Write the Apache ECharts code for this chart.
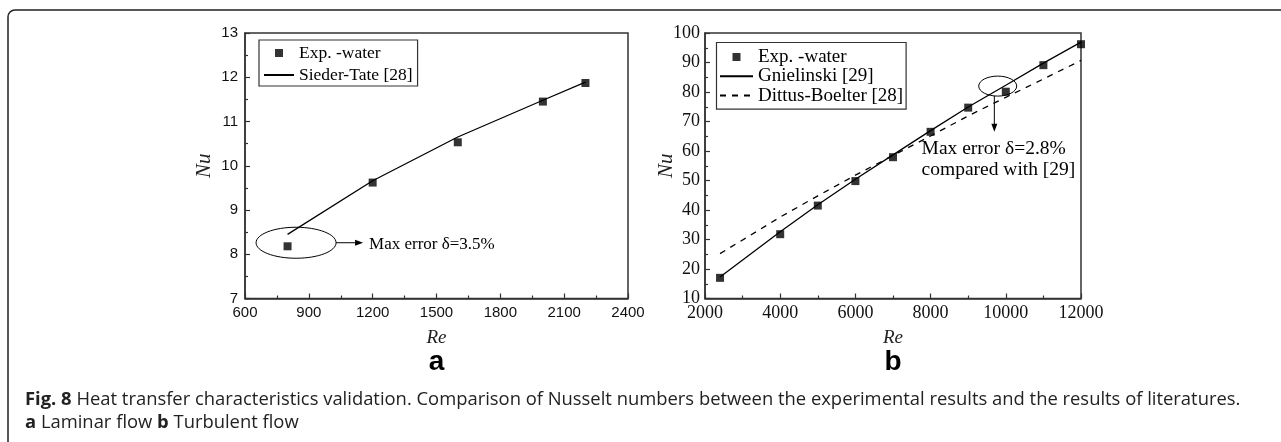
<!DOCTYPE html>
<html>
<head>
<meta charset="utf-8">
<script src="https://cdn.jsdelivr.net/npm/echarts@6/dist/echarts.min.js"></script>
<style>
  html, body { margin: 0; padding: 0; background: #fff; }
  #chart { width: 1281px; height: 442px; }
</style>
</head>
<body>
<div id="chart"></div>
<script>
// ---- Data ----
const laminarRe = [800, 1200, 1600, 2000, 2200];
const laminarExp = [8.18, 9.62, 10.53, 11.45, 11.87];
const laminarSiederTate = [8.45, 9.66, 10.65, 11.48, 11.89];

const turbulentRe = [2400, 4000, 5000, 6000, 7000, 8000, 9000, 10000, 11000, 12000];
const turbulentExp = [17.0, 31.8, 41.5, 49.8, 57.9, 66.5, 74.7, 80.1, 89.1, 96.2];
const turbulentGnielinski = [17.3, 32.6, 41.8, 50.4, 58.7, 66.9, 74.9, 82.3, 89.8, 96.9];
const turbulentDittus = [25.2, 37.6, 44.8, 51.8, 58.5, 65.1, 71.9, 78.2, 84.4, 90.7];

const seriesNames = {
  exp: 'Exp. -water',
  sieder: 'Sieder-Tate [28]',
  gniel: 'Gnielinski [29]',
  dittus: 'Dittus-Boelter [28]'
};

const leftAxes = { xMin: 600, xMax: 2400, xStep: 300, yMin: 7, yMax: 13, yStep: 1 };
const rightAxes = { xMin: 2000, xMax: 12000, xStep: 2000, yMin: 10, yMax: 100, yStep: 10 };

const captionBold = 'Fig. 8';
const captionLine1 = ' Heat transfer characteristics validation. Comparison of Nusselt numbers between the experimental results and the results of literatures.';
const captionLine2a = 'a';
const captionLine2b = ' Laminar flow ';
const captionLine2c = 'b';
const captionLine2d = ' Turbulent flow';

const note1 = 'Max error δ=3.5%';
const note2a = 'Max error δ=2.8%';
const note2b = 'compared with [29]';

// ---- Helpers ----
const zip = (xs, ys) => xs.map((x, i) => [x, ys[i]]);
const INK = '#000';
const AX = '#333';
const SERIF = 'Liberation Serif';
const SANS = 'Liberation Sans';
const squareIcon = 'path://M0,0L10,0L10,10L0,10Z';

function axisCommon(labelFont, labelSize, margin) {
  return {
    nameMoveOverlap: false,
    axisLine: { show: true, onZero: false, lineStyle: { color: AX, width: 1.5 } },
    axisTick: { show: true, inside: true, length: 5, lineStyle: { color: AX, width: 1.2 } },
    minorTick: { show: true, splitNumber: 2, length: 3, lineStyle: { color: AX, width: 1.2 } },
    splitLine: { show: false },
    minorSplitLine: { show: false },
    axisLabel: { fontFamily: labelFont, fontSize: labelSize, color: '#111', margin: margin, formatter: v => String(v) }
  };
}

const chart = echarts.init(document.getElementById('chart'), null, { renderer: 'canvas' });

const hideSymbol = { opacity: 0, color: 'transparent', borderWidth: 0 };

const option = {
  animation: false,
  backgroundColor: '#fff',
  grid: [
    { left: 245, top: 33, width: 383, height: 265.5, show: true, borderColor: AX, borderWidth: 1.5, backgroundColor: 'transparent' },
    { left: 705, top: 33, width: 376, height: 265.5, show: true, borderColor: AX, borderWidth: 1.5, backgroundColor: 'transparent' }
  ],
  xAxis: [
    Object.assign(axisCommon(SANS, 15, 7), {
      type: 'value', gridIndex: 0, min: leftAxes.xMin, max: leftAxes.xMax, interval: leftAxes.xStep,
      name: 'Re', nameLocation: 'middle', nameGap: 30,
      nameTextStyle: { fontFamily: SERIF, fontStyle: 'italic', fontSize: 19, color: '#222' }
    }),
    Object.assign(axisCommon(SERIF, 18, 6), {
      type: 'value', gridIndex: 1, min: rightAxes.xMin, max: rightAxes.xMax, interval: rightAxes.xStep,
      name: 'Re', nameLocation: 'middle', nameGap: 30,
      nameTextStyle: { fontFamily: SERIF, fontStyle: 'italic', fontSize: 19, color: '#222' }
    })
  ],
  yAxis: [
    Object.assign(axisCommon(SANS, 15, 7), {
      type: 'value', gridIndex: 0, min: leftAxes.yMin, max: leftAxes.yMax, interval: leftAxes.yStep,
      name: 'Nu', nameLocation: 'middle', nameGap: 30,
      nameTextStyle: { fontFamily: SERIF, fontStyle: 'italic', fontSize: 21, color: '#222' }
    }),
    Object.assign(axisCommon(SERIF, 18, 5), {
      type: 'value', gridIndex: 1, min: rightAxes.yMin, max: rightAxes.yMax, interval: rightAxes.yStep,
      name: 'Nu', nameLocation: 'middle', nameGap: 28,
      nameTextStyle: { fontFamily: SERIF, fontStyle: 'italic', fontSize: 21, color: '#222' }
    })
  ],
  legend: [
    {
      orient: 'vertical', left: 259, top: 40, selectedMode: false,
      backgroundColor: '#fff', borderColor: AX, borderWidth: 1.2, borderRadius: 0,
      padding: [3, 5, 1, 4], itemGap: 2, itemWidth: 30, itemHeight: 8,
      textStyle: { fontFamily: SERIF, fontSize: 17.5, color: INK, lineHeight: 20 },
      data: [
        { name: seriesNames.exp, icon: squareIcon },
        { name: seriesNames.sieder, itemStyle: hideSymbol }
      ]
    },
    {
      orient: 'vertical', left: 716.5, top: 42.5, selectedMode: false,
      backgroundColor: '#fff', borderColor: AX, borderWidth: 1.2, borderRadius: 0,
      padding: [5, 3, 4, 2.5], itemGap: 0.3, itemWidth: 33, itemHeight: 8,
      textStyle: { fontFamily: SERIF, fontSize: 19, color: INK, lineHeight: 18 },
      data: [
        { name: seriesNames.exp, icon: squareIcon },
        { name: seriesNames.gniel, itemStyle: hideSymbol },
        { name: seriesNames.dittus, itemStyle: hideSymbol }
      ]
    }
  ],
  series: [
    {
      name: seriesNames.sieder, type: 'line', xAxisIndex: 0, yAxisIndex: 0,
      data: zip(laminarRe, laminarSiederTate), symbol: 'none',
      lineStyle: { color: INK, width: 1.3 }, itemStyle: { color: INK }, z: 2
    },
    {
      name: seriesNames.exp, type: 'scatter', xAxisIndex: 0, yAxisIndex: 0,
      data: zip(laminarRe, laminarExp), symbol: 'rect', symbolSize: 8,
      itemStyle: { color: INK }, z: 3
    },
    {
      name: seriesNames.gniel, type: 'line', xAxisIndex: 1, yAxisIndex: 1,
      data: zip(turbulentRe, turbulentGnielinski), symbol: 'none',
      lineStyle: { color: INK, width: 1.3 }, itemStyle: { color: INK }, z: 2
    },
    {
      name: seriesNames.dittus, type: 'line', xAxisIndex: 1, yAxisIndex: 1,
      data: zip(turbulentRe, turbulentDittus), symbol: 'none',
      lineStyle: { color: INK, width: 1.3, type: [6, 6] }, itemStyle: { color: INK }, z: 2
    },
    {
      name: seriesNames.exp, type: 'scatter', xAxisIndex: 1, yAxisIndex: 1,
      data: zip(turbulentRe, turbulentExp), symbol: 'rect', symbolSize: 8,
      itemStyle: { color: INK }, z: 3
    }
  ]
};

chart.setOption(option);

// ---- Annotations positioned via the chart's own coordinate conversion ----
const L = (re, nu) => chart.convertToPixel({ gridIndex: 0 }, [re, nu]);
const R = (re, nu) => chart.convertToPixel({ gridIndex: 1 }, [re, nu]);

const e1 = L(840, 8.26);
const a1s = L(1028, 8.26), a1e = L(1155, 8.26);
const t1 = L(1183, 8.22);

const e2 = R(9785, 82.0);
const a2s = R(9695, 78.7), a2e = R(9695, 66.5);
const t2a = R(7760, 60.8), t2b = R(7760, 53.5);

const gridL = chart.getModel().getComponent('grid', 0).coordinateSystem.getRect();
const gridR = chart.getModel().getComponent('grid', 1).coordinateSystem.getRect();

const captionRich = {
  b: { fontFamily: 'Open Sans', fontWeight: 'bold', fontSize: 18.4, fill: '#222' },
  n: { fontFamily: 'Open Sans', fontSize: 18.4, fill: '#222' }
};

const graphics = [
  // outer figure frame (top + left edges, rounded top-left corner)
  { type: 'rect', shape: { x: 8, y: 10, width: 1300, height: 460, r: [7, 0, 0, 0] },
    style: { fill: 'none', stroke: '#222', lineWidth: 1.5 }, silent: true, z: 0 },
  // left annotation
  { type: 'ellipse', shape: { cx: e1[0], cy: e1[1], rx: 40, ry: 15.5 },
    style: { fill: 'none', stroke: INK, lineWidth: 1 }, z: 10 },
  { type: 'line', shape: { x1: a1s[0], y1: a1s[1], x2: a1e[0] - 6, y2: a1e[1] },
    style: { stroke: INK, lineWidth: 1 }, z: 10 },
  { type: 'polygon', shape: { points: [[a1e[0], a1e[1]], [a1e[0] - 8, a1e[1] - 3], [a1e[0] - 8, a1e[1] + 3]] },
    style: { fill: INK }, z: 10 },
  { type: 'text', x: t1[0], y: t1[1],
    style: { text: note1, fontFamily: SERIF, fontSize: 17, fill: INK, verticalAlign: 'middle', align: 'left' }, z: 10 },
  // right annotation
  { type: 'ellipse', shape: { cx: e2[0], cy: e2[1], rx: 19, ry: 10 },
    style: { fill: 'none', stroke: INK, lineWidth: 1 }, z: 10 },
  { type: 'line', shape: { x1: a2s[0], y1: a2s[1], x2: a2e[0], y2: a2e[1] - 6 },
    style: { stroke: INK, lineWidth: 1 }, z: 10 },
  { type: 'polygon', shape: { points: [[a2e[0], a2e[1]], [a2e[0] - 3, a2e[1] - 8], [a2e[0] + 3, a2e[1] - 8]] },
    style: { fill: INK }, z: 10 },
  { type: 'text', x: t2a[0], y: t2a[1],
    style: { text: note2a, fontFamily: SERIF, fontSize: 19.5, fill: INK, verticalAlign: 'middle', align: 'left' }, z: 10 },
  { type: 'text', x: t2b[0], y: t2b[1],
    style: { text: note2b, fontFamily: SERIF, fontSize: 19.5, fill: INK, verticalAlign: 'middle', align: 'left' }, z: 10 },
  // panel letters
  { type: 'text', x: gridL.x + gridL.width / 2, y: 362,
    style: { text: 'a', fontFamily: SANS, fontWeight: 'bold', fontSize: 28, fill: INK, align: 'center', verticalAlign: 'middle' } },
  { type: 'text', x: gridR.x + gridR.width / 2, y: 362,
    style: { text: 'b', fontFamily: SANS, fontWeight: 'bold', fontSize: 28, fill: INK, align: 'center', verticalAlign: 'middle' } },
  // caption
  { type: 'text', x: 25, y: 400,
    style: {
      text: '{b|' + captionBold + '}{n|' + captionLine1 + '}',
      verticalAlign: 'middle', align: 'left', rich: captionRich
    } },
  { type: 'text', x: 25, y: 423,
    style: {
      text: '{b|' + captionLine2a + '}{n|' + captionLine2b + '}{b|' + captionLine2c + '}{n|' + captionLine2d + '}',
      verticalAlign: 'middle', align: 'left', rich: captionRich
    } }
];

chart.setOption({ graphic: graphics });
</script>
</body>
</html>
